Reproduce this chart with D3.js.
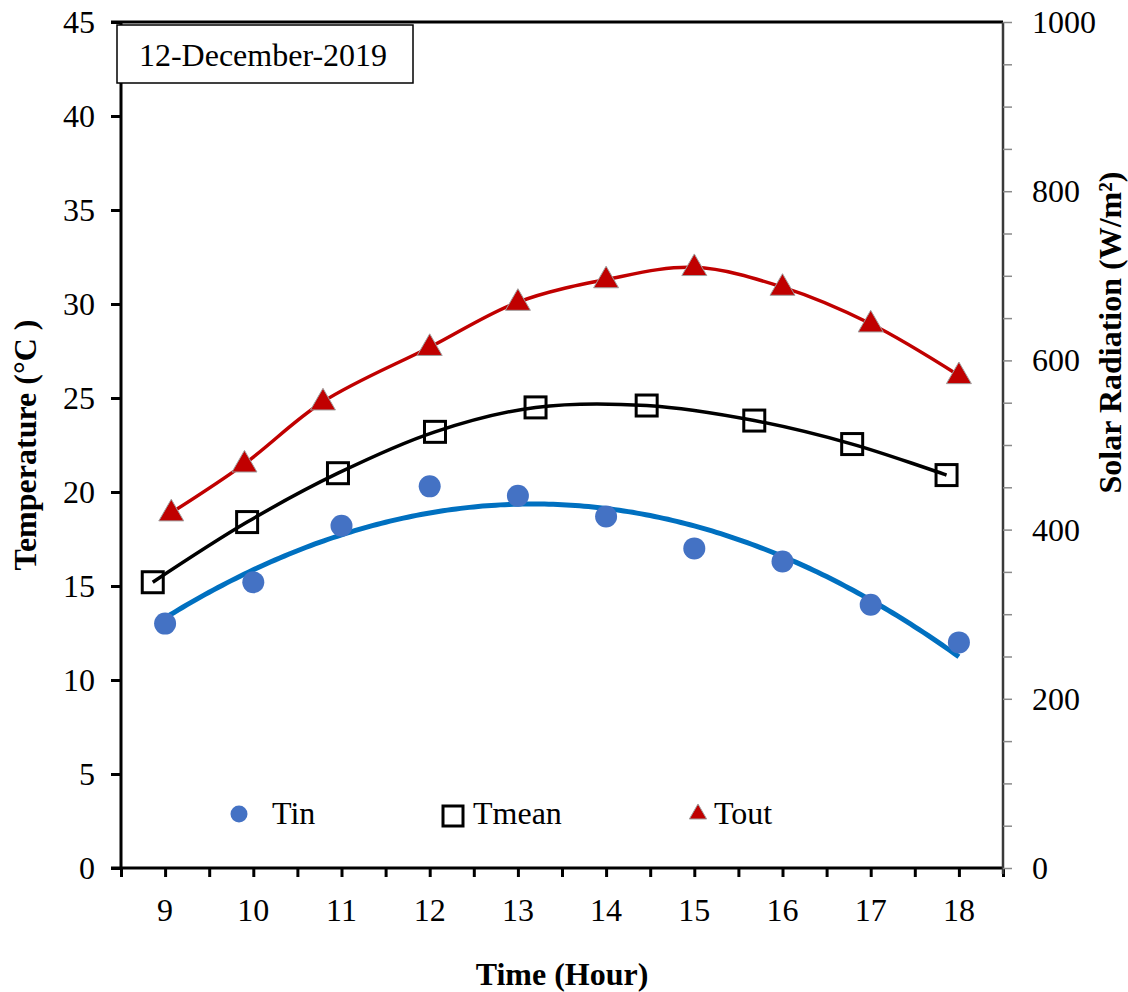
<!DOCTYPE html>
<html>
<head>
<meta charset="utf-8">
<script src="https://cdn.jsdelivr.net/npm/d3@7"></script>
<style>
  body { margin: 0; background: #fff; }
  text { font-family: "Liberation Serif", "Times New Roman", serif; }
</style>
</head>
<body>
<div id="chart"></div>
<script>
// data
const tinHours = [9, 10, 11, 12, 13, 14, 15, 16, 17, 18];
const tinValues = [13.0, 15.2, 18.2, 20.3, 19.8, 18.7, 17.0, 16.3, 14.0, 12.0];

const tmeanHours = [8.86, 9.93, 10.96, 12.06, 13.2, 14.46, 15.68, 16.79, 17.86];
const tmeanValues = [15.2, 18.4, 21.0, 23.2, 24.5, 24.6, 23.8, 22.55, 20.9];

const toutHours = [9.07, 9.9, 10.79, 12, 13, 14, 15, 16, 17, 18];
const toutValues = [18.9, 21.5, 24.8, 27.7, 30.1, 31.3, 31.95, 30.9, 28.95, 26.2];

const tempTicks = [0, 5, 10, 15, 20, 25, 30, 35, 40, 45];
const radTicks = [0, 200, 400, 600, 800, 1000];
const hourTicks = [9, 10, 11, 12, 13, 14, 15, 16, 17, 18];
const dateLabel = "12-December-2019";

const width = 1128, height = 992;
const margin = {top: 22, right: 125, bottom: 124, left: 121};
const fs = 32;

const svg = d3.select("#chart").append("svg")
    .attr("width", width)
    .attr("height", height);

const x = d3.scaleLinear().domain([8.5, 18.5]).range([margin.left, width - margin.right]);
const y = d3.scaleLinear().domain([0, 45]).range([height - margin.bottom, margin.top]);
const yR = d3.scaleLinear().domain([0, 1000]).range([height - margin.bottom, margin.top]);

// quadratic least-squares trend for Tin (like the spreadsheet trendline)
function polyFit2(xs, ys) {
  let s = [0, 0, 0, 0, 0], t = [0, 0, 0];
  xs.forEach((xv, i) => {
    let p = 1;
    for (let k = 0; k <= 4; k++) { s[k] += p; if (k <= 2) t[k] += p * ys[i]; p *= xv; }
  });
  const A = [[s[0], s[1], s[2], t[0]], [s[1], s[2], s[3], t[1]], [s[2], s[3], s[4], t[2]]];
  for (let i = 0; i < 3; i++) {
    for (let j = i + 1; j < 3; j++) {
      const f = A[j][i] / A[i][i];
      for (let k = i; k < 4; k++) A[j][k] -= f * A[i][k];
    }
  }
  const c = [0, 0, 0];
  for (let i = 2; i >= 0; i--) {
    let v = A[i][3];
    for (let k = i + 1; k < 3; k++) v -= A[i][k] * c[k];
    c[i] = v / A[i][i];
  }
  return xv => c[0] + c[1] * xv + c[2] * xv * xv;
}
const trend = polyFit2(tinHours, tinValues);
const trendPts = d3.range(9, 18.001, 0.05).map(h => [h, trend(h)]);

// trend line
svg.append("path")
    .datum(trendPts)
    .attr("fill", "none")
    .attr("stroke", "#0070C0")
    .attr("stroke-width", 5)
    .attr("d", d3.line().x(d => x(d[0])).y(d => y(d[1])));

const smooth = d3.line().curve(d3.curveCatmullRom.alpha(0.5)).x(d => x(d[0])).y(d => y(d[1]));

const tmean = tmeanHours.map((h, i) => [h, tmeanValues[i]]);
const tout = toutHours.map((h, i) => [h, toutValues[i]]);

svg.append("path")
    .datum(tmean)
    .attr("fill", "none")
    .attr("stroke", "#000")
    .attr("stroke-width", 3.5)
    .attr("d", smooth);

svg.append("path")
    .datum(tout)
    .attr("fill", "none")
    .attr("stroke", "#C00000")
    .attr("stroke-width", 3.5)
    .attr("d", smooth);

// markers
svg.append("g")
  .selectAll("circle")
  .data(tinHours)
  .join("circle")
    .attr("cx", d => x(d))
    .attr("cy", (d, i) => y(tinValues[i]))
    .attr("r", 11)
    .attr("fill", "#4472C4");

svg.append("g")
  .selectAll("rect")
  .data(tmean)
  .join("rect")
    .attr("x", d => x(d[0]) - 10.5)
    .attr("y", d => y(d[1]) - 10.5)
    .attr("width", 21)
    .attr("height", 21)
    .attr("fill", "none")
    .attr("stroke", "#000")
    .attr("stroke-width", 3);

const tri = d3.symbol().type(d3.symbolTriangle).size(270);
svg.append("g")
  .selectAll("path")
  .data(tout)
  .join("path")
    .attr("transform", d => `translate(${x(d[0])},${y(d[1]) + 1})`)
    .attr("d", tri)
    .attr("fill", "#C00000")
    .attr("stroke", "#a0a0a0")
    .attr("stroke-width", 1);

// axes
const bottom = height - margin.bottom;

svg.append("g")
    .attr("transform", `translate(0,${bottom})`)
    .call(d3.axisBottom(x).tickValues(d3.range(8.5, 18.51, 0.5)).tickSize(9).tickFormat(""))
    .call(g => g.select(".domain").attr("stroke-width", 3).attr("d", `M${margin.left - 10},0H${width - margin.right}`))
    .call(g => g.selectAll(".tick line").attr("stroke-width", 3));

svg.append("g")
  .selectAll("text")
  .data(hourTicks)
  .join("text")
    .attr("x", d => x(d))
    .attr("y", bottom + 53)
    .attr("text-anchor", "middle")
    .attr("font-size", fs)
    .text(d => d);

svg.append("g")
    .attr("transform", `translate(${margin.left},0)`)
    .call(d3.axisLeft(y).tickValues(tempTicks).tickSize(10).tickPadding(16))
    .call(g => g.select(".domain").attr("stroke-width", 3).attr("d", `M0,${bottom}V${margin.top}`))
    .call(g => g.selectAll(".tick line").attr("stroke-width", 3))
    .call(g => g.selectAll(".tick text")
        .attr("font-family", "Liberation Serif")
        .attr("font-size", fs)
        .attr("fill", "#000"));

// top frame line
svg.append("line")
    .attr("x1", margin.left - 10).attr("x2", width - margin.right)
    .attr("y1", margin.top).attr("y2", margin.top)
    .attr("stroke", "#000").attr("stroke-width", 3);

const right = width - margin.right;
svg.append("g")
    .attr("transform", `translate(${right},0)`)
    .call(d3.axisRight(yR).tickValues(d3.range(0, 1001, 50)).tickSize(9).tickFormat(""))
    .call(g => g.select(".domain").attr("stroke", "#3a3a3a").attr("stroke-width", 2.5).attr("d", `M0,${bottom + 6}V${margin.top}`))
    .call(g => g.selectAll(".tick line").attr("stroke", "#8a8a8a").attr("stroke-width", 1.5));

svg.append("g")
  .selectAll("text")
  .data(radTicks)
  .join("text")
    .attr("x", right + 29)
    .attr("y", d => yR(d) + 11)
    .attr("font-size", fs)
    .text(d => d);

// axis titles
svg.append("text")
    .attr("x", x(13.5))
    .attr("y", 985)
    .attr("text-anchor", "middle")
    .attr("font-size", fs)
    .attr("font-weight", "bold")
    .text("Time (Hour)");

svg.append("text")
    .attr("transform", `translate(36,${y(22.5)}) rotate(-90)`)
    .attr("text-anchor", "middle")
    .attr("font-size", fs)
    .attr("font-weight", "bold")
    .text("Temperature (°C )");

svg.append("text")
    .attr("transform", `translate(1121,${yR(633)}) rotate(-90)`)
    .attr("text-anchor", "middle")
    .attr("font-size", fs)
    .attr("font-weight", "bold")
    .text("Solar Radiation (W/m²)");

// date box
svg.append("rect")
    .attr("x", 117).attr("y", 25)
    .attr("width", 296).attr("height", 58)
    .attr("fill", "#fff")
    .attr("stroke", "#000")
    .attr("stroke-width", 1.5);
svg.append("text")
    .attr("x", 263).attr("y", 66)
    .attr("text-anchor", "middle")
    .attr("font-size", fs)
    .text(dateLabel);

// legend
const legY = 814;
const leg = svg.append("g");
leg.append("circle").attr("cx", 239).attr("cy", legY).attr("r", 8.5).attr("fill", "#4472C4");
leg.append("text").attr("x", 272).attr("y", legY + 10).attr("font-size", fs).text("Tin");
leg.append("rect").attr("x", 443).attr("y", legY - 8).attr("width", 20).attr("height", 20)
    .attr("fill", "none").attr("stroke", "#000").attr("stroke-width", 3);
leg.append("path").attr("transform", `translate(698,${legY})`)
    .attr("d", d3.symbol().type(d3.symbolTriangle).size(130))
    .attr("fill", "#C00000").attr("stroke", "#a0a0a0").attr("stroke-width", 1);
leg.append("text").attr("x", 473).attr("y", legY + 10).attr("font-size", fs).text("Tmean");
leg.append("text").attr("x", 714).attr("y", legY + 10).attr("font-size", fs).text("Tout");
</script>
</body>
</html>
